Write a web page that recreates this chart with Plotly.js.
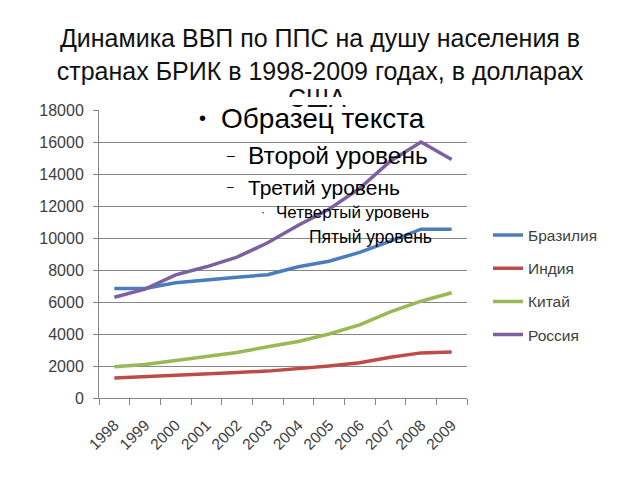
<!DOCTYPE html>
<html><head><meta charset="utf-8">
<script src="https://cdn.plot.ly/plotly-3.0.1.min.js"></script>
<style>html,body{margin:0;padding:0;background:#fff}#wrap{position:relative;width:640px;height:480px}#chart{width:640px;height:480px}
#cover{position:absolute;left:280px;top:97px;width:75px;height:8px;background:#fff;pointer-events:none}</style>
</head><body><div id="wrap"><div id="chart"></div><div id="cover"></div></div>
<script>
const years = ['1998','1999','2000','2001','2002','2003','2004','2005','2006','2007','2008','2009'];
const brazil = [6850, 6850, 7200, 7400, 7550, 7700, 8200, 8550, 9100, 9800, 10550, 10550];
const india  = [1250, 1350, 1450, 1520, 1600, 1680, 1820, 2000, 2200, 2550, 2820, 2880];
const china  = [1950, 2100, 2350, 2600, 2850, 3200, 3530, 4000, 4570, 5380, 6050, 6580];
const russia = [6300, 6800, 7700, 8200, 8800, 9700, 10800, 11800, 13100, 14800, 16000, 14900];
const seriesNames = ['Бразилия','Индия','Китай','Россия'];
const seriesColors = ['#4A7EBB','#BE4B48','#98B954','#7D60A0'];
const seriesData = [brazil, india, china, russia];
const titleLines = ['Динамика ВВП по ППС на душу населения в', 'странах БРИК в 1998-2009 годах, в долларах', 'США'];

const L = 99, R = 467, T = 110, B = 398;
const px = x => (x - L) / (R - L);
const py = y => (B - y) / (B - T);

const traces = seriesData.map((d, i) => ({
  type: 'scatter', mode: 'lines', x: years, y: d, name: seriesNames[i],
  legendgroup: 'g' + i,
  line: {color: seriesColors[i], width: 3.5}
}));

const overlay = [
  {t: '•', x: 197, y: 118, s: 20},
  {t: 'Образец текста', x: 219, y: 118, s: 28},
  {t: '–', x: 225, y: 155, s: 14},
  {t: 'Второй уровень', x: 246, y: 155, s: 24.5},
  {t: '–', x: 225, y: 187, s: 12},
  {t: 'Третий уровень', x: 246, y: 187, s: 21},
  {t: '·', x: 259, y: 212, s: 12},
  {t: 'Четвертый уровень', x: 274, y: 212, s: 17},
  {t: 'Пятый уровень', x: 307, y: 237, s: 17.5}
];

const annotations = overlay.map(o => ({
  text: o.t, xref: 'paper', yref: 'paper', x: px(o.x), y: py(o.y),
  xanchor: 'left', yanchor: 'middle', showarrow: false,
  font: {family: 'Liberation Sans, Arial, sans-serif', size: o.s, color: '#000'}
}));
annotations.push({
  text: titleLines[2], xref: 'paper', yref: 'paper', x: px(317), y: py(98),
  xanchor: 'center', yanchor: 'middle', showarrow: false,
  font: {family: 'Liberation Sans, Arial, sans-serif', size: 25, color: '#111'}
});

const layout = {
  width: 640, height: 480,
  margin: {l: L, r: 640 - R, t: T, b: 480 - B},
  paper_bgcolor: '#fff', plot_bgcolor: '#fff',
  title: {
    text: titleLines[0] + '<br>' + titleLines[1],
    font: {family: 'Liberation Sans, Arial, sans-serif', size: 25, color: '#111'},
    x: 0.5, xanchor: 'center', xref: 'container',
    y: 1 - 47/480, yanchor: 'top', yref: 'container'
  },
  xaxis: {
    type: 'category', range: [-0.5, 11.5], showline: true, linecolor: '#868686', linewidth: 1,
    ticks: 'outside', ticklen: 6, tickcolor: '#868686', tickson: 'boundaries',
    showgrid: false, tickangle: -45, ticklabelstandoff: 11,
    tickfont: {family: 'Liberation Sans, Arial, sans-serif', size: 15.5, color: '#404040'}
  },
  yaxis: {
    range: [0, 18000], dtick: 2000, showline: true, linecolor: '#868686', linewidth: 1,
    ticks: 'outside', ticklen: 5, tickcolor: '#868686', ticklabelstandoff: 6,
    showgrid: true, gridcolor: '#868686', gridwidth: 1, zeroline: false,
    tickformat: 'd',
    tickfont: {family: 'Liberation Sans, Arial, sans-serif', size: 16, color: '#404040'}
  },
  legend: {
    x: px(488), xanchor: 'left', y: py(285), yanchor: 'middle',
    tracegroupgap: 10,
    font: {family: 'Liberation Sans, Arial, sans-serif', size: 15.5, color: '#404040'},
    bgcolor: 'rgba(0,0,0,0)'
  },
  showlegend: true,
  annotations: annotations
};

Plotly.newPlot('chart', traces, layout, {displayModeBar: false, staticPlot: true});
</script></body></html>
